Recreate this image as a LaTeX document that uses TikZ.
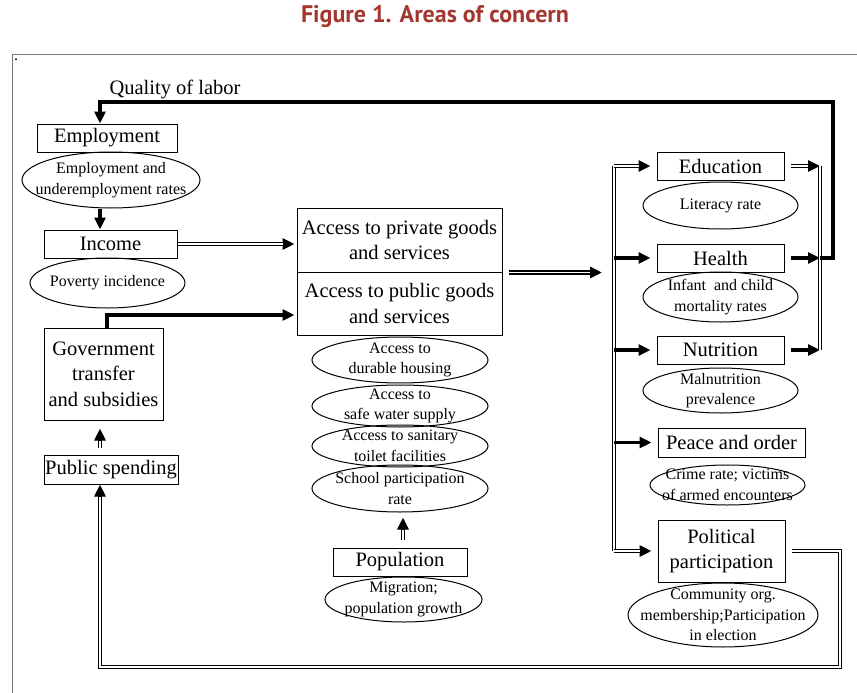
\documentclass[tikz,border=0pt]{standalone}
\usepackage{fontspec}
\setmainfont{Liberation Serif}
\newfontfamily\titlefont{PT Sans}
\usetikzlibrary{arrows.meta}
\usetikzlibrary{shapes.geometric}
\usepackage{xcolor}
\definecolor{titlered}{RGB}{163,55,48}
\definecolor{framegray}{RGB}{120,120,120}
\newcommand{\bigtxt}{\fontsize{20.5}{25.5}\selectfont}
\newcommand{\smalltxt}{\fontsize{16}{20.5}\selectfont}

\begin{document}
\begin{tikzpicture}[x=1pt, y=-1pt,
  box/.style={draw, line width=1pt, inner sep=0pt, align=center, font=\bigtxt},
  oval/.style={ellipse, draw, line width=1pt, inner xsep=-40pt, inner ysep=-20pt, align=center, font=\smalltxt},
  dblline/.style={draw=white, line width=1.1pt, preaction={draw=black, line width=4.2pt}},
  dbl/.style={draw=white, line width=1.1pt, shorten >=12pt,
    preaction={draw=black, line width=4.2pt, shorten >=0pt, -{Triangle[length=12pt,width=11pt]}}},
  thkline/.style={line width=3.8pt},
  thk/.style={thkline, -{Triangle[length=12pt,width=11pt]}}]
\useasboundingbox (0,0) rectangle (857,693);
% frame and title
\draw[framegray, line width=1pt] (12,693) -- (12,55) -- (857,55);
\node[font=\titlefont\bfseries\fontsize{24}{26}\selectfont, text=titlered] (title) at (435,17) {Figure 1. Areas of concern};
\node[font=\smalltxt, inner sep=0pt] (dot) at (16,60) {.};
\node[font=\bigtxt] (qual) at (175,89) {Quality of labor};

% left column
\node[box, minimum width=140pt, minimum height=28pt] (emp) at (107,138) {Employment};
\node[oval, minimum width=178pt, minimum height=56pt] (empr) at (111,180) {Employment and\\underemployment rates};
\node[box, minimum width=133pt, minimum height=28pt] (inc) at (110.5,244) {Income};
\node[oval, minimum width=155pt, minimum height=50pt] (pov) at (107.5,283) {Poverty incidence};
\node[box, minimum width=119pt, minimum height=92pt] (gov) at (103.5,374) {Government\\transfer\\and subsidies};
\node[box, minimum width=134pt, minimum height=29pt] (pub) at (111,469.5) {Public spending};

% middle column
\node[box, minimum width=205pt, minimum height=64pt] (accpriv) at (399.5,240) {Access to private goods\\and services};
\node[box, minimum width=205pt, minimum height=63pt] (accpub) at (399.5,303.5) {Access to public goods\\and services};
\node[oval, minimum width=176pt, minimum height=46pt] (hous) at (400,360) {Access to\\durable housing};
\node[oval, minimum width=176pt, minimum height=42pt] (water) at (400,406) {Access to\\safe water supply};
\node[oval, minimum width=176pt, minimum height=42pt] (sani) at (400,446) {Access to sanitary\\toilet facilities};
\node[oval, minimum width=176pt, minimum height=47pt] (school) at (400,488.5) {School participation\\rate};
\node[box, minimum width=134pt, minimum height=28pt] (popu) at (400,562) {Population};
\node[oval, minimum width=157pt, minimum height=45pt] (migr) at (403.5,599.5) {Migration;\\population growth};

% right column
\node[box, minimum width=127pt, minimum height=28pt] (edu) at (720.5,166) {Education};
\node[oval, minimum width=155pt, minimum height=47pt] (lit) at (720.5,205.5) {Literacy rate};
\node[box, minimum width=127pt, minimum height=28pt] (hea) at (720.5,258) {Health};
\node[oval, minimum width=155pt, minimum height=50pt] (inf) at (720.5,297) {Infant \ and child\\mortality rates};
\node[box, minimum width=127pt, minimum height=28pt] (nut) at (720.5,350) {Nutrition};
\node[oval, minimum width=155pt, minimum height=45pt] (mal) at (720.5,390.5) {Malnutrition\\prevalence};
\node[box, minimum width=147pt, minimum height=29pt] (peace) at (731.5,442.5) {Peace and order};
\node[oval, minimum width=155pt, minimum height=40pt] (crime) at (727.5,485) {Crime rate; victims\\of armed encounters};
\node[box, minimum width=127pt, minimum height=62pt] (pol) at (721.5,551) {Political\\participation};
\node[oval, minimum width=190pt, minimum height=64pt] (comm) at (723,615) {Community org.\\membership;Participation\\in election};

% helper coordinates
\coordinate (lx) at (100,0);
\coordinate (busx) at (614,0);
\coordinate (mergex) at (820,0);
\coordinate (fbtop) at (833,102);
\coordinate (fbbot) at (840,667);

% connectors
\draw[thk] (lx |- empr.south) -- (lx |- inc.north);
\draw[dbl] (inc.east) -- ([xshift=-2pt]inc.east -| accpriv.west);
\draw[thk, shorten >=2pt] ([xshift=3.5pt]gov.north) |- ([yshift=-11.5pt]accpub.west);
\draw[dbl] ([yshift=7pt]lx |- pub.north) -- ([yshift=-8pt]lx |- gov.south);
\draw[dbl] ([yshift=8pt]popu.north -| 403,0) -- ([yshift=-5pt]school.south -| 403,0);
\draw[dbl] ([xshift=6pt]accpriv.south east) -- ([xshift=-12pt]busx |- accpriv.south east);

\draw[dblline] (busx |- edu.west) -- (busx |- pol.west);
\draw[dbl] (busx |- edu.west) -- ([xshift=-6pt]edu.west);
\draw[thk, shorten >=6pt] (busx |- hea.west) -- (hea.west);
\draw[thk, shorten >=6pt] (busx |- nut.west) -- (nut.west);
\draw[thk, shorten >=6pt] (busx |- peace.west) -- (peace.west);
\draw[dbl] (busx |- pol.west) -- ([xshift=-6pt]pol.west);

\draw[dbl] ([xshift=6pt]edu.east) -- (mergex |- edu.east);
\draw[thk] ([xshift=6pt]hea.east) -- (mergex |- hea.east);
\draw[thk] ([xshift=6pt]nut.east) -- (mergex |- nut.east);
\draw[dblline] (mergex |- edu.east) -- (mergex |- nut.east);

% feedback loops
\draw[thk] (mergex |- hea.east) -| (fbtop) -| (lx |- emp.north);
\draw[dbl] ([xshift=6pt]pol.east) -| (fbbot) -| (lx |- pub.south);
\end{tikzpicture}
\end{document}
